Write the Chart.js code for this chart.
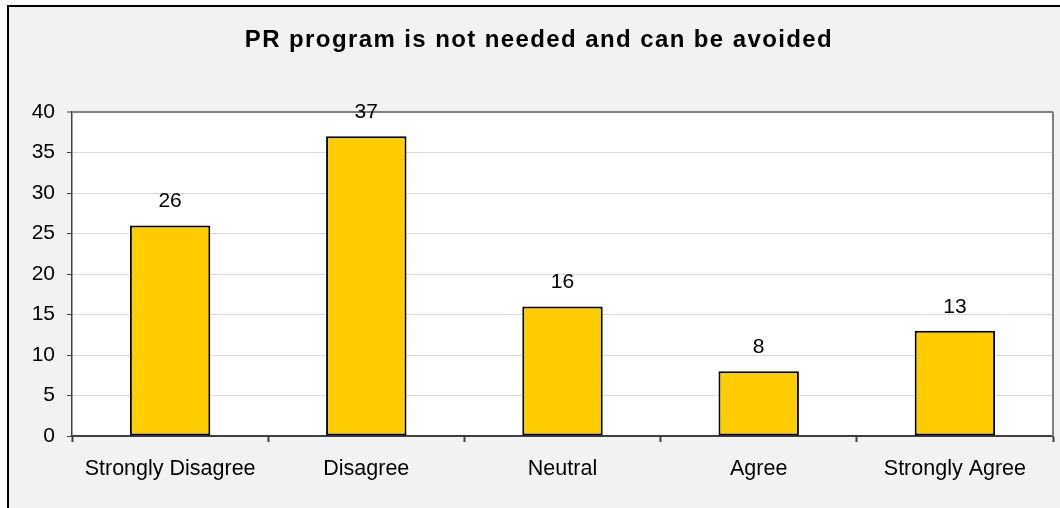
<!DOCTYPE html>
<html>
<head>
<meta charset="utf-8">
<script src="https://cdn.jsdelivr.net/npm/chart.js@4/dist/chart.umd.min.js"></script>
<style>
  html, body { margin: 0; padding: 0; background: #fff; }
  #wrap { width: 1060px; height: 508px; }
</style>
</head>
<body>
<div id="wrap"><canvas id="myChart" width="1060" height="508"></canvas></div>
<script>
const chartTitle = 'PR program is not needed and can be avoided';
const categories = ['Strongly Disagree', 'Disagree', 'Neutral', 'Agree', 'Strongly Agree'];
const responses = [26, 37, 16, 8, 13];
const yMax = 40;
const yStep = 5;

const fontFamily = '"Liberation Sans", Arial, sans-serif';

// grey frame, white plot area, title and the plot's top/right border
const framePlugin = {
  id: 'frame',
  beforeDraw: chart => {
    const { ctx, width, height, chartArea: area } = chart;
    ctx.save();
    ctx.fillStyle = '#ffffff';
    ctx.fillRect(0, 0, width, height);
    ctx.fillStyle = '#f2f2f2';
    ctx.fillRect(7, 5, width - 7, height - 5);
    ctx.strokeStyle = '#000000';
    ctx.lineWidth = 2;
    ctx.beginPath();
    ctx.moveTo(8, height);
    ctx.lineTo(8, 6);
    ctx.lineTo(width, 6);
    ctx.stroke();
    ctx.fillStyle = '#ffffff';
    ctx.fillRect(area.left, area.top, area.right - area.left, area.bottom - area.top);

    ctx.fillStyle = '#000000';
    ctx.font = `bold 24px ${fontFamily}`;
    ctx.letterSpacing = '1.4px';
    ctx.textAlign = 'center';
    ctx.textBaseline = 'alphabetic';
    ctx.fillText(chartTitle, 539, 47);
    ctx.restore();
  },
  beforeDatasetsDraw: chart => {
    const { ctx, chartArea: area } = chart;
    ctx.save();
    ctx.strokeStyle = '#808080';
    ctx.lineWidth = 2;
    ctx.beginPath();
    ctx.moveTo(area.right, area.top);
    ctx.lineTo(area.right, area.bottom);
    ctx.stroke();
    ctx.restore();
  }
};

// value written above each bar
const valueLabels = {
  id: 'valueLabels',
  afterDatasetsDraw: chart => {
    const { ctx } = chart;
    const meta = chart.getDatasetMeta(0);
    ctx.save();
    ctx.fillStyle = '#000000';
    ctx.font = `21px ${fontFamily}`;
    ctx.textAlign = 'center';
    ctx.textBaseline = 'alphabetic';
    meta.data.forEach((bar, i) => {
      ctx.fillText(String(responses[i]), bar.x, bar.y - 18);
    });
    ctx.restore();
  }
};

const ctx = document.getElementById('myChart').getContext('2d');
const myChart = new Chart(ctx, {
  type: 'bar',
  data: {
    labels: categories,
    datasets: [{
      data: responses,
      backgroundColor: '#ffcc00',
      borderColor: '#000000',
      borderWidth: 2,
      borderSkipped: false,
      categoryPercentage: 1,
      barPercentage: 0.41
    }]
  },
  options: {
    responsive: false,
    animation: false,
    layout: { padding: { top: 112, right: 7, left: 0, bottom: 0 } },
    plugins: {
      legend: { display: false },
      title: { display: false },
      tooltip: { enabled: false }
    },
    scales: {
      x: {
        offset: true,
        afterFit: scale => { scale.height = 72; },
        grid: {
          offset: true,
          drawOnChartArea: false,
          drawTicks: true,
          tickLength: 6,
          tickColor: '#404040',
          tickWidth: 2
        },
        border: { color: '#404040', width: 2 },
        ticks: {
          color: '#000000',
          padding: 14,
          maxRotation: 0,
          font: { family: fontFamily, size: 21.5 }
        }
      },
      y: {
        min: 0,
        max: yMax,
        afterFit: scale => { scale.width = 72; },
        grid: {
          color: c => (c.tick && c.tick.value === yMax ? '#808080' : '#d9d9d9'),
          lineWidth: c => (c.tick && c.tick.value === yMax ? 2 : 1),
          tickLength: 5,
          tickColor: '#404040',
          tickWidth: 1
        },
        border: { color: '#404040', width: 1.5 },
        ticks: {
          stepSize: yStep,
          color: '#000000',
          padding: 12,
          font: { family: fontFamily, size: 21 }
        }
      }
    }
  },
  plugins: [framePlugin, valueLabels]
});
</script>
</body>
</html>
